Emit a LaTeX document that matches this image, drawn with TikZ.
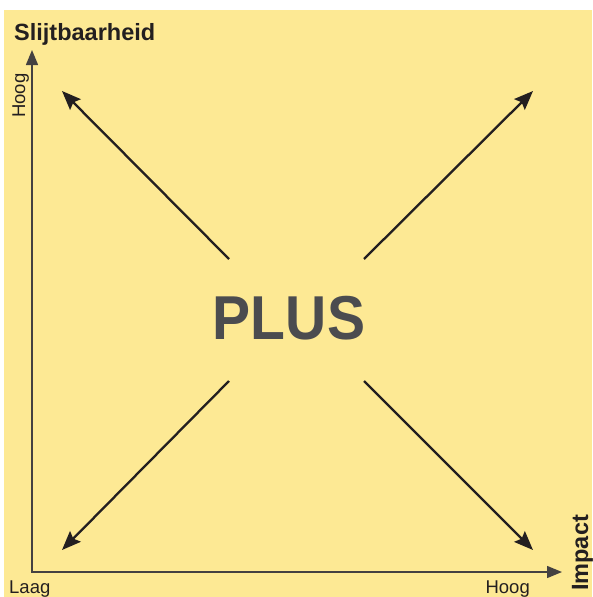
\documentclass[tikz,border=0pt]{standalone}
\usepackage{fontspec}
\setmainfont{Liberation Sans}
\usepackage{tikz}
\usetikzlibrary{arrows.meta}
\definecolor{padyellow}{RGB}{253,233,148}
\definecolor{plusgray}{RGB}{75,76,79}
\definecolor{inkdark}{RGB}{35,31,32}

\begin{document}
\begin{tikzpicture}[x=1pt, y=-1pt,
  axisline/.style={line width=1.4pt, draw=inkdark!85, line join=miter,
    {Triangle[length=15pt,width=12pt]}-{Triangle[length=15pt,width=12pt]}},
  cornerarrow/.style={line width=2.3pt, draw=inkdark, -{Stealth[length=19pt,width=15pt,inset=3pt]}},
  endtext/.style={inner sep=0pt, text=inkdark, font=\fontsize{18.5}{20}\selectfont},
  axistitle/.style={inner sep=0pt, text=inkdark, font=\fontsize{23.5}{26}\selectfont\bfseries}]
\useasboundingbox (0,0) rectangle (592,597);
\fill[padyellow] (4,10) rectangle (592,597);
% axes
\coordinate (origin) at (32,572);
\coordinate (ytop) at (32,50);
\coordinate (xend) at (562,572);
\draw[axisline] (ytop) -- (origin) -- (xend);
\node[axistitle, anchor=base west] (ytitle) at (14,40) {Slijtbaarheid};
\node[endtext, rotate=90, anchor=base west] (yhigh) at (25,118) {Hoog};
\node[endtext, anchor=base west] (xlow) at (9,593) {Laag};
\node[endtext, anchor=base east] (xhigh) at (530,593) {Hoog};
\node[axistitle, rotate=90, anchor=base west] (xtitle) at (588,591) {Impact};
% centre
\node[text=plusgray, font=\fontsize{62}{62}\selectfont\bfseries] (plus) at (289,318) {\scalebox{0.92}[1]{PLUS}};
\foreach \dir/\sx/\sy/\tx/\ty in {nw/229/259/62/91, ne/364/259/533/91, sw/229/381/62/550, se/364/381/533/550} {
  \coordinate (\dir start) at (\sx,\sy);
  \coordinate (\dir tip) at (\tx,\ty);
  \draw[cornerarrow] (\dir start) -- (\dir tip);
}
\end{tikzpicture}
\end{document}
